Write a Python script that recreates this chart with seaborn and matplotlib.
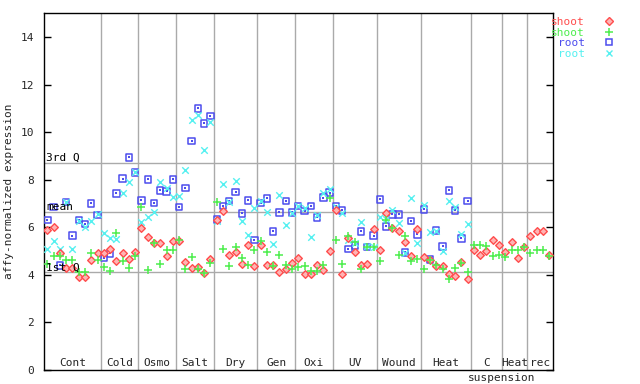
import numpy as np
import pandas as pd
import matplotlib
matplotlib.use("Agg")
import matplotlib.pyplot as plt
import seaborn as sns
from matplotlib.lines import Line2D
from matplotlib.transforms import blended_transform_factory

# ---------------- data ----------------
groups = ["Cont", "Cold", "Osmo", "Salt", "Dry", "Gen", "Oxi", "UV", "Wound", "Heat", "C", "Heat", "rec"]
group_sizes = [9, 6, 6, 6, 7, 6, 6, 7, 7, 8, 5, 4, 4]

shoot_red = [5.88, 5.99, 4.9, 4.29, 4.3, 3.91, 3.91, 4.62, 4.9,
             4.9, 5.1, 4.57, 4.9, 4.66, 4.95,
             5.95, 5.57, 5.32, 5.32, 4.77, 5.42,
             5.4, 4.53, 4.27, 4.34, 4.09, 4.67,
             6.3, 6.68, 4.83, 4.94, 4.44, 5.25, 4.36,
             5.25, 4.4, 4.4, 4.1, 4.23, 4.48,
             4.69, 4.01, 4.01, 4.39, 4.18, 5.0,
             6.72, 4.01, 5.53, 4.94, 4.39, 4.47, 5.91,
             5.06, 6.58, 5.95, 5.84, 5.36, 4.78, 5.91,
             4.74, 4.6, 4.38, 4.35, 4.05, 3.93, 4.55, 3.84,
             5.06, 4.84, 4.98, 5.44, 5.27,
             4.94, 5.36, 4.69, 5.15,
             5.61, 5.86, 5.82, 4.85]

shoot_green = [4.45, 4.77, 4.77, 4.6, 4.6, 4.12, 4.12, 4.9, 4.6,
               4.33, 4.15, 5.74, 4.57, 4.28, 4.78,
               6.85, 4.18, 5.32, 4.43, 5.04, 5.04,
               5.44, 4.24, 4.73, 4.24, 4.06, 4.48,
               7.05, 5.08, 4.35, 5.18, 4.69, 4.39, 5.06,
               5.42, 4.95, 4.35, 4.82, 4.4, 4.23,
               4.32, 4.36, 4.17, 4.17, 4.39, 7.25,
               5.46, 4.43, 5.65, 5.36, 4.22, 5.18, 5.15,
               4.56, 6.3, 5.98, 4.85, 5.65, 4.56, 4.66,
               4.24, 4.64, 4.4, 4.26, 3.84, 4.28, 4.5, 4.1,
               5.23, 5.23, 5.19, 4.77, 4.81,
               4.74, 5.06, 5.02, 5.15,
               4.9, 5.06, 5.02, 4.77]

nan = np.nan
root_blue = [6.29, 6.86, 4.39, 7.07, 5.65, 6.29, 6.13, 7.0, 6.51,
             4.69, 4.9, 7.42, 8.05, 8.94, 8.31,
             7.13, 8.01, 7.02, 7.55, 7.51, 8.01,
             6.84, 7.64, 9.62, 11.0, 10.37, 10.67,
             6.32, 6.89, 7.09, 7.47, 6.58, 7.13, 5.45,
             7.03, 7.21, 5.82, 6.62, 7.09, 6.62,
             6.9, 6.68, 6.88, 6.41, 7.25, 7.46,
             6.88, 6.71, 5.07, 5.23, 5.82, 5.16, 5.65,
             7.17, 6.03, 6.54, 6.54, 4.94, 6.25, 5.7,
             6.75, 4.64, 5.86, 5.19, 7.55, 6.71, 5.53, 7.09,
             nan, nan, nan, nan, nan,
             nan, nan, nan, nan,
             nan, nan, nan, nan]

root_cyan = [5.08, 5.42, 5.09, 7.07, 5.09, 6.27, 6.02, 6.27, 6.55,
             5.74, 5.53, 5.5, 7.42, 7.91, 8.31,
             6.22, 6.41, 6.65, 7.89, 7.66, 7.26,
             7.31, 8.39, 10.5, 10.72, 9.25, 10.42,
             6.27, 7.84, 7.05, 7.93, 6.25, 5.66, 6.8,
             7.1, 6.62, 5.28, 7.34, 6.08, 6.58,
             6.9, 6.79, 5.57, 6.51, 7.45, 7.6,
             6.83, 6.58, 5.46, 5.32, 6.2, 5.2, 5.15,
             6.44, 6.33, 6.72, 6.16, 4.9, 7.21, 5.32,
             6.93, 5.78, 5.86, 4.98, 7.1, 6.83, 5.71, 6.12,
             nan, nan, nan, nan, nan,
             nan, nan, nan, nan,
             nan, nan, nan, nan]

stat_labels = ["3rd Q", "mean", "1st Q"]
stat_values = [8.70, 6.63, 4.10]

# ---------------- style ----------------
sns.set_style("white")
plt.rcParams["font.family"] = ["DejaVu Sans Mono", "DejaVu Sans"]
plt.rcParams["font.size"] = 8

RED, GREEN, BLUE, CYAN = "#ff4d4d", "#4dee4d", "#4d4dee", "#55f0f0"
GRID = "#aaaaaa"

n = len(shoot_red)
idx = np.arange(n)
df = pd.DataFrame({"idx": idx, "shoot_red": shoot_red, "shoot_green": shoot_green,
                   "root_blue": root_blue, "root_cyan": root_cyan})

fig = plt.figure(figsize=(6.4, 3.84), dpi=100)
ax = fig.add_axes([44 / 640, 1 - 369.7 / 384, (552.5 - 44) / 640, (369.7 - 13.45) / 384])

# grid lines: group separators and statistics
bounds = np.cumsum(group_sizes)[:-1] - 0.5
for b in bounds:
    ax.axvline(b, color=GRID, lw=1, zorder=1)
for lab, v in zip(stat_labels, stat_values):
    ax.axhline(v, color=GRID, lw=1, zorder=1)
    ax.text(0.004, v, lab, transform=blended_transform_factory(ax.transAxes, ax.transData),
            ha="left", va="bottom", fontsize=8, color="black", zorder=5)

# points
sns.scatterplot(data=df, x="idx", y="root_blue", marker="s", s=21, facecolor="none",
                edgecolor=BLUE, linewidth=1.1, ax=ax, zorder=3)
sns.scatterplot(data=df, x="idx", y="root_blue", marker="s", s=2, color=BLUE,
                linewidth=0, ax=ax, zorder=3)
sns.scatterplot(data=df, x="idx", y="root_cyan", marker="x", s=22, color=CYAN,
                linewidth=1.0, ax=ax, zorder=3)
sns.scatterplot(data=df, x="idx", y="shoot_red", marker="D", s=15, facecolor="#ffb3b3",
                edgecolor=RED, linewidth=1.0, ax=ax, zorder=4)
sns.scatterplot(data=df, x="idx", y="shoot_green", marker="+", s=32, color=GREEN,
                linewidth=1.1, ax=ax, zorder=4)

ax.set_xlim(-0.53, n - 0.47)
ax.set_ylim(0, 15)
ax.set_xticks([])
ax.set_yticks(np.arange(0, 15, 2))
ax.set_xlabel("")
ax.set_ylabel("affy-normalized expression", fontsize=8, labelpad=5)
ax.tick_params(axis="y", direction="in", length=5, width=1, pad=7, left=True, right=True,
               labelsize=8, color="black")
for sp in ax.spines.values():
    sp.set_visible(True)
    sp.set_color("black")
    sp.set_linewidth(1)

# group labels
starts = np.concatenate([[0], np.cumsum(group_sizes)[:-1]])
trans = blended_transform_factory(ax.transData, ax.transAxes)
for g, st, sz in zip(groups, starts, group_sizes):
    center = st - 0.5 + sz / 2
    ax.text(center, 0.004, g, transform=trans, ha="center", va="bottom", fontsize=8)
susp_x = starts[11] - 0.5
ax.text(susp_x, -0.008, "suspension", transform=trans, ha="center", va="top", fontsize=8,
        clip_on=False)

# legend
handles = [
    Line2D([], [], ls="none", marker="D", ms=4.0, mfc="#ffb3b3", mec=RED, mew=1.0),
    Line2D([], [], ls="none", marker="+", ms=6, color=GREEN, mew=1.1),
    Line2D([], [], ls="none", marker="s", ms=4.6, mfc="none", mec=BLUE, mew=1.1),
    Line2D([], [], ls="none", marker="x", ms=4.7, color=CYAN, mew=1.0),
]
labels = ["shoot", "shoot", "root", "root"]
fig.legend(handles, labels, loc="upper right", bbox_to_anchor=(615 / 640, 1 - 17 / 384),
           bbox_transform=fig.transFigure, frameon=False, markerfirst=False,
           labelcolor=[RED, GREEN, BLUE, CYAN], fontsize=8, labelspacing=0.05,
           handlelength=1.0, handletextpad=1.7, borderpad=0, borderaxespad=0)

fig.savefig("out.png", dpi=100)
